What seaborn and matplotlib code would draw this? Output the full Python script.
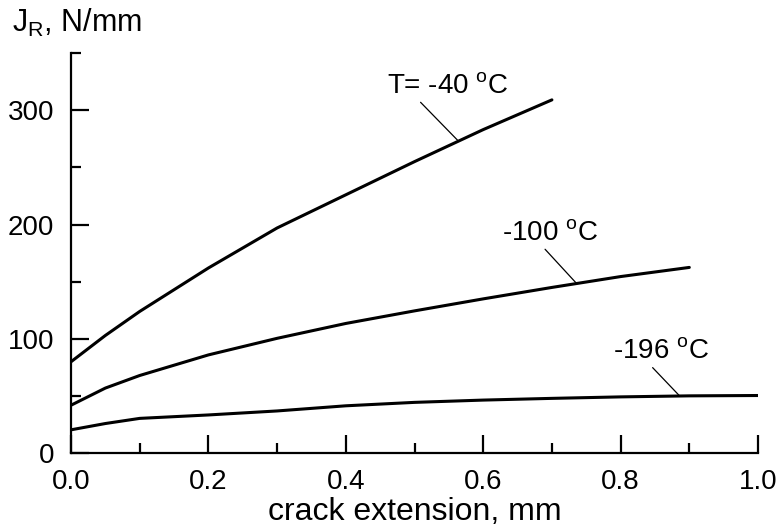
import numpy as np
import pandas as pd
import matplotlib
matplotlib.use('Agg')
import matplotlib.pyplot as plt
import seaborn as sns

# crack extension (mm) and J_R (N/mm)
x_m40 = [0.0, 0.05, 0.1, 0.2, 0.3, 0.4, 0.5, 0.6, 0.7]
j_m40 = [80, 103, 124, 162, 197, 226, 255, 283, 309]

x_m100 = [0.0, 0.05, 0.1, 0.2, 0.3, 0.4, 0.5, 0.6, 0.7, 0.8, 0.9]
j_m100 = [42, 57, 68, 86, 100.5, 113.5, 124.5, 135, 145, 154.5, 162.5]

x_m196 = [0.0, 0.05, 0.1, 0.2, 0.3, 0.4, 0.5, 0.6, 0.7, 0.8, 0.9, 1.0]
j_m196 = [20.5, 26, 30.5, 33.5, 37, 41.5, 44.5, 46.5, 48, 49.3, 50.2, 50.5]

labels = ['T= -40 $^{\\rm o}$C', '-100 $^{\\rm o}$C', '-196 $^{\\rm o}$C']
# (label x, label baseline y, leader end x, relpos on text)
label_pos = [(0.46, 315, 0.564, 0.25),
             (0.627, 186.5, 0.736, 0.42),
             (0.789, 83, 0.886, 0.38)]

x_major = [0.0, 0.2, 0.4, 0.6, 0.8, 1.0]
x_minor = [0.1, 0.3, 0.5, 0.7, 0.9]
y_major = [0, 100, 200, 300]
y_minor = [50, 150, 250, 350]

sns.set_theme(style='ticks')
plt.rcParams['font.family'] = ['Liberation Sans', 'DejaVu Sans']
plt.rcParams['mathtext.fontset'] = 'custom'
plt.rcParams['mathtext.rm'] = 'Liberation Sans'
plt.rcParams['mathtext.it'] = 'Liberation Sans:italic'

fig = plt.figure(figsize=(7.76, 5.32), dpi=100)
ax = fig.add_axes([0.0915, 0.148, 0.8853, 0.7524])

series = [(x_m40, j_m40), (x_m100, j_m100), (x_m196, j_m196)]
for xs, js in series:
    df = pd.DataFrame({'x': xs, 'j': js})
    sns.lineplot(data=df, x='x', y='j', color='black', lw=2.2, ax=ax)

for (xs, js), lab, (tx, ty, lx, rp) in zip(series, labels, label_pos):
    ly = np.interp(lx, xs, js)
    ax.annotate(lab, xy=(lx, ly), xytext=(tx, ty), fontsize=20,
                ha='left', va='baseline', color='black',
                arrowprops=dict(arrowstyle='-', lw=0.9, color='black',
                                relpos=(rp, 0), shrinkA=0, shrinkB=0))

ax.set_xlim(0, 1.0)
ax.set_ylim(0, 350)
ax.set_xticks(x_major)
ax.set_xticks(x_minor, minor=True)
ax.set_yticks(y_major)
ax.set_yticks(y_minor, minor=True)
ax.xaxis.set_major_formatter(matplotlib.ticker.FormatStrFormatter('%.1f'))

for s in ['top', 'right']:
    ax.spines[s].set_visible(False)
for s in ['left', 'bottom']:
    ax.spines[s].set_linewidth(1.6)
    ax.spines[s].set_color('black')

ax.tick_params(which='major', direction='in', length=13, width=1.6,
               colors='black', labelsize=20)
ax.tick_params(axis='x', which='major', pad=11)
ax.tick_params(axis='y', which='major', pad=12)
ax.tick_params(which='minor', direction='in', length=7, width=1.6, colors='black')

ax.set_xlabel('crack extension, mm', fontsize=23, color='black', labelpad=2)
ax.set_ylabel('')
fig.text(0.0155, 0.94, 'J$_{\\rm R}$, N/mm', fontsize=22, ha='left',
         va='baseline', color='black')

fig.savefig('out.png', dpi=100)
